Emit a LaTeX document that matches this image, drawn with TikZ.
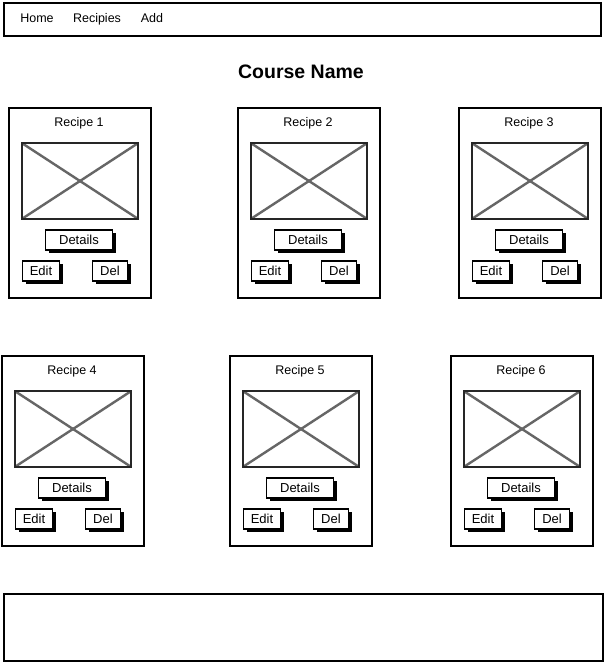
\documentclass[tikz,border=0pt]{standalone}
\usepackage{fontspec}
\setmainfont{Liberation Sans}
\usetikzlibrary{shadows}
\tikzset{
  box/.style={draw=black, line width=2pt, fill=white, inner sep=0pt, anchor=north west},
  imgbox/.style={draw=black!85, line width=2pt, inner sep=0pt, anchor=north west, minimum width=116pt, minimum height=76pt},
  xline/.style={draw=black!60, line width=2.4pt},
  btn/.style={draw=black, line width=1.7pt, fill=white, inner sep=0pt, minimum height=20pt,
    font=\fontsize{13}{15}\selectfont, text height=10.5pt, text depth=1.2pt,
    drop shadow={shadow xshift=3pt, shadow yshift=-3pt, fill=black, opacity=1}},
  lbl/.style={font=\fontsize{12.5}{14}\selectfont, inner sep=0pt, text height=10pt, text depth=1pt},
  heading/.style={font=\fontsize{19.5}{22}\bfseries\selectfont, inner sep=0pt, text height=16pt, text depth=2pt}
}
\newcommand\recipecard[4]{%
  \begin{scope}[shift={(#2,#3)}]
    \node[box, minimum width=142pt, minimum height=190pt] (#1) at (0,0) {};
    \node[lbl] (#1title) at (71,15) {Recipe #4};
    \node[imgbox] (#1img) at (13,35) {};
    \draw[xline] ([shift={(1.5pt,-1.5pt)}]#1img.north west) -- ([shift={(-1.5pt,1.5pt)}]#1img.south east);
    \draw[xline] ([shift={(-1.5pt,-1.5pt)}]#1img.north east) -- ([shift={(1.5pt,1.5pt)}]#1img.south west);
    \node[imgbox, fill=none] at (13,35) {};
    \node[btn, minimum width=67pt] (#1det) at (71,133) {Details};
    \node[btn, minimum width=37pt] (#1edit) at (33,164) {Edit};
    \node[btn, minimum width=35pt] (#1del) at (102,164) {Del};
  \end{scope}}
\begin{document}
\begin{tikzpicture}[x=1pt, y=-1pt]
  \useasboundingbox[fill=white] (0,0) rectangle (604,662);
  % navigation bar
  \node[box, minimum width=597pt, minimum height=33pt] (nav) at (3,2) {};
  \node[lbl] (home) at (37,18) {Home};
  \node[lbl] (recipies) at (97,18) {Recipies};
  \node[lbl] (add) at (152,18) {Add};
  % heading
  \node[heading] (course) at (301,71) {Course Name};
  % cards
  \recipecard{c1}{8}{107}{1}
  \recipecard{c2}{237}{107}{2}
  \recipecard{c3}{458}{107}{3}
  \recipecard{c4}{1}{355}{4}
  \recipecard{c5}{229}{355}{5}
  \recipecard{c6}{450}{355}{6}
  % footer
  \node[box, minimum width=599pt, minimum height=67pt] (footer) at (3,593) {};
\end{tikzpicture}
\end{document}
